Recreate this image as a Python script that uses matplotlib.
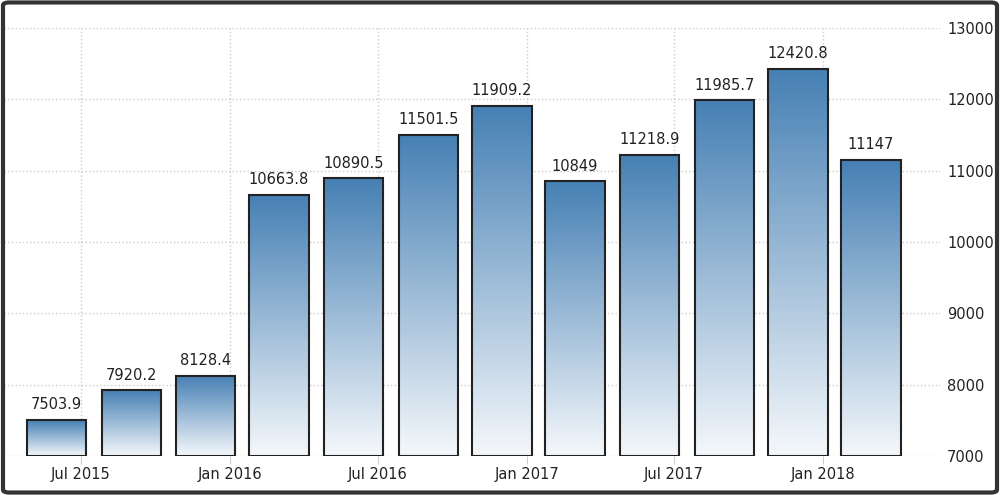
import matplotlib
matplotlib.use("Agg")
import matplotlib.pyplot as plt
import matplotlib.dates as mdates
from matplotlib.colors import LinearSegmentedColormap
from matplotlib.patches import Rectangle, FancyBboxPatch
import numpy as np
import datetime as dt

plt.rcParams['font.family'] = ['DejaVu Sans']

# quarterly values
dates = [dt.date(2015, 6, 1), dt.date(2015, 9, 1), dt.date(2015, 12, 1),
         dt.date(2016, 3, 1), dt.date(2016, 6, 1), dt.date(2016, 9, 1),
         dt.date(2016, 12, 1), dt.date(2017, 3, 1), dt.date(2017, 6, 1),
         dt.date(2017, 9, 1), dt.date(2017, 12, 1), dt.date(2018, 3, 1)]
values = [7503.9, 7920.2, 8128.4, 10663.8, 10890.5, 11501.5,
          11909.2, 10849, 11218.9, 11985.7, 12420.8, 11147]
labels = ["7503.9", "7920.2", "8128.4", "10663.8", "10890.5", "11501.5",
          "11909.2", "10849", "11218.9", "11985.7", "12420.8", "11147"]
y_ticks = [7000, 8000, 9000, 10000, 11000, 12000, 13000]

ymin, ymax = 7000, 13000
xs = mdates.date2num(dates)
width = 73  # days

fig = plt.figure(figsize=(10, 4.95), dpi=100)
ax = fig.add_axes([0.004, 1 - 456 / 495, 0.936, (456 - 28) / 495])

cmap = LinearSegmentedColormap.from_list("bar", ["#f5f8fb", "#4680b4"])
grad = np.linspace(0, 1, 256).reshape(-1, 1)

for x, v, lab in zip(xs, values, labels):
    left = x - width / 2
    im = ax.imshow(grad, cmap=cmap, aspect="auto", origin="lower",
                   extent=[left, left + width, ymin, v], zorder=2)
    rect = Rectangle((left, ymin), width, v - ymin, facecolor="none",
                     edgecolor="#222222", linewidth=1.5, zorder=3)
    ax.add_patch(rect)
    im.set_clip_path(rect)
    ax.text(x, v + 110, lab, ha="center", va="bottom", fontsize=10.5,
            color="#222222", zorder=4)

ax.set_xlim(mdates.date2num(dt.date(2015, 3, 28)), mdates.date2num(dt.date(2018, 5, 25)))
ax.set_ylim(ymin, ymax)

ax.xaxis.set_major_locator(mdates.MonthLocator(bymonth=[1, 7]))
ax.xaxis.set_major_formatter(mdates.DateFormatter("%b %Y"))
ax.yaxis.tick_right()
ax.set_yticks(y_ticks)
ax.tick_params(axis="y", length=0, pad=5, labelsize=10.5, labelcolor="#222222")
ax.tick_params(axis="x", length=6, color="#cccccc", pad=2, labelsize=10.5,
               labelcolor="#222222")

ax.grid(True, linestyle=":", color="#cccccc", linewidth=1, zorder=0)
ax.set_axisbelow(True)
for s in ax.spines.values():
    s.set_visible(False)

border = FancyBboxPatch((0.003, 0.005), 0.994, 0.99,
                        boxstyle="round,pad=0,rounding_size=0.006",
                        transform=fig.transFigure, facecolor="none",
                        edgecolor="#333333", linewidth=3)
fig.patches.append(border)

fig.savefig("out.png", dpi=100)
